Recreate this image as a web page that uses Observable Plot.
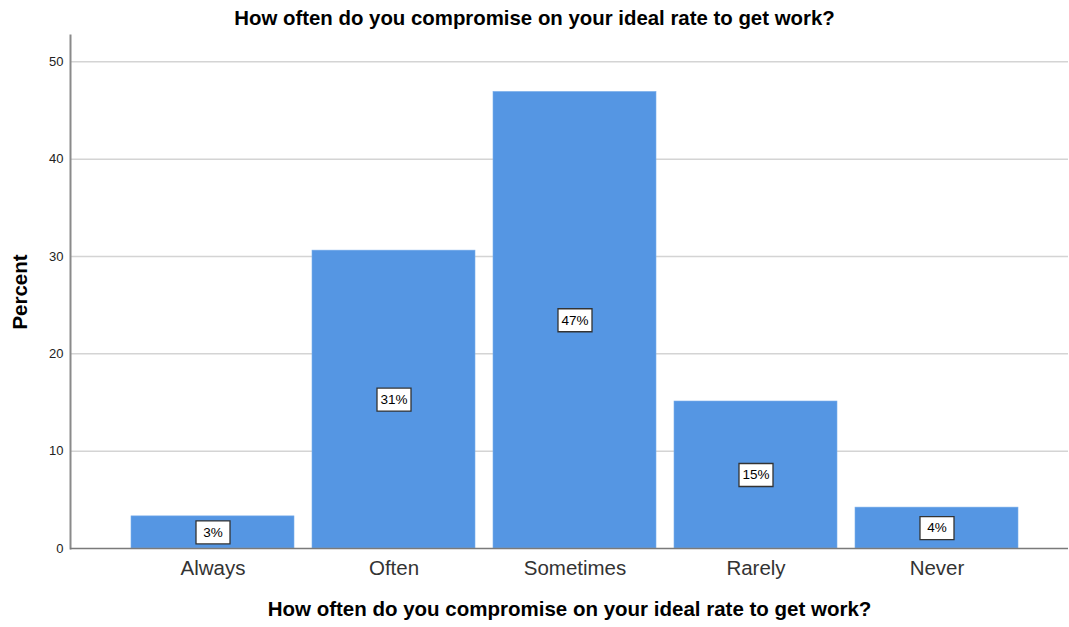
<!DOCTYPE html>
<html>
<head>
<meta charset="utf-8">
<script src="https://cdn.jsdelivr.net/npm/d3@7"></script>
<script src="https://cdn.jsdelivr.net/npm/@observablehq/plot@0.6"></script>
<style>
  body { margin: 0; background: #fff; font-family: "Liberation Sans", Arial, sans-serif; }
  #title { height: 32px; line-height: 37px; text-align: center; font-weight: bold; font-size: 20.4px; color: #000; }
</style>
</head>
<body>
<div id="title">How often do you compromise on your ideal rate to get work?</div>
<div id="chart"></div>
<script>
const categories = ["Always", "Often", "Sometimes", "Rarely", "Never"];
const percents = [3.3, 30.6, 46.9, 15.1, 4.2];
const yTicks = [0, 10, 20, 30, 40, 50];
const xLabel = "How often do you compromise on your ideal rate to get work?";
const yLabel = "Percent";

const data = categories.map((c, i) => ({category: c, value: percents[i], label: Math.round(percents[i]) + "%"}));

const boxSymbol = { draw(ctx, size) { ctx.rect(-17, -11.5, 34, 23); } };

const chart = Plot.plot({
  width: 1069,
  height: 595,
  marginTop: 3,
  marginBottom: 79,
  marginLeft: 70,
  marginRight: 1,
  style: { fontFamily: "Liberation Sans, Arial, sans-serif", background: "#fff" },
  x: { domain: categories, range: [76, 1073], paddingInner: 0.1, paddingOuter: 0.3 },
  y: { domain: [0, 52.7] },
  marks: [
    Plot.ruleY(yTicks.filter(d => d > 0), { stroke: "#d4d4d4", strokeWidth: 1.5 }),
    Plot.barY(data, { x: "category", y: "value", fill: "#5596e3", stroke: "#7aaeea", strokeWidth: 0.6 }),
    Plot.dot(data, { x: "category", y: d => d.value / 2, symbol: boxSymbol, fill: "#fff", stroke: "#333", strokeWidth: 1.3, r: 10 }),
    Plot.text(data, { x: "category", y: d => d.value / 2, text: "label", fontSize: 13.5, fill: "#000" }),
    Plot.axisY({ ticks: yTicks, tickSize: 0, tickPadding: 7, fontSize: 13, color: "#222", label: yLabel, labelAnchor: "center", labelArrow: "none", labelOffset: 58 }),
    Plot.axisX({ tickSize: 0, tickPadding: 12, fontSize: 20.5, color: "#333", label: xLabel, labelAnchor: "center", labelArrow: "none", labelOffset: 67 }),
    Plot.frame({ anchor: "left", stroke: "#8a8a8a", strokeWidth: 2 }),
    Plot.ruleY([0], { stroke: "#7a7a7a", strokeWidth: 1.5 })
  ]
});

chart.querySelectorAll("[aria-label='y-axis label'] text, [aria-label='x-axis label'] text").forEach(t => {
  t.setAttribute("font-weight", "bold");
  t.setAttribute("font-size", "20.5");
  t.setAttribute("fill", "#000");
});
document.getElementById("chart").appendChild(chart);
</script>
</body>
</html>
